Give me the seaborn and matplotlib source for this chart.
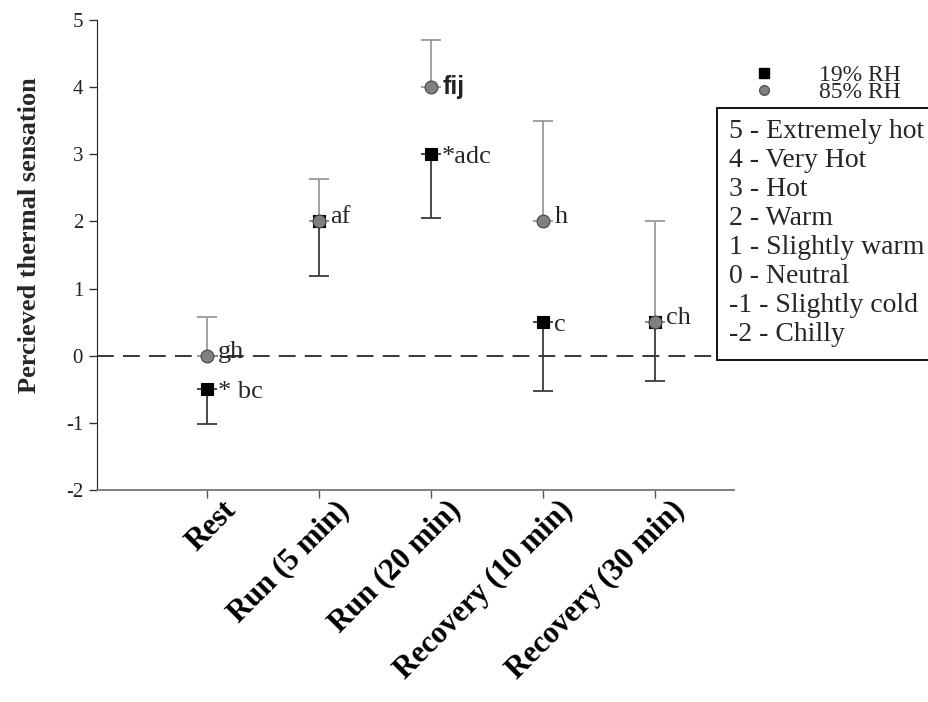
import matplotlib
matplotlib.use("Agg")
import matplotlib.pyplot as plt
import matplotlib.transforms as mtransforms
from matplotlib.lines import Line2D
from matplotlib.patches import Rectangle
import seaborn as sns
import pandas as pd

# data
stages = ["Rest", "Run (5 min)", "Run (20 min)", "Recovery (10 min)", "Recovery (30 min)"]
rh19_mean = [-0.5, 2.0, 3.0, 0.5, 0.5]
rh19_err = [0.52, 0.82, 0.95, 1.03, 0.88]      # drawn downward only
rh85_mean = [0.0, 2.0, 4.0, 2.0, 0.5]
rh85_err = [0.57, 0.63, 0.70, 1.50, 1.50]      # drawn upward only
rh19_labels = ["* bc", "", "*adc", "c", ""]
rh85_labels = ["gh", "af", "fij", "h", "ch"]
scale_text = ["5 - Extremely hot", "4 - Very Hot", "3 - Hot", "2 - Warm",
              "1 - Slightly warm", "0 - Neutral", "-1 - Slightly cold", "-2 - Chilly"]

sns.set_style("ticks")
plt.rcParams['font.family'] = ['Liberation Serif', 'DejaVu Serif']
plt.rcParams['axes.unicode_minus'] = False

df19 = pd.DataFrame({"stage": stages, "val": rh19_mean})
df85 = pd.DataFrame({"stage": stages, "val": rh85_mean})
pos = list(range(len(stages)))

fig = plt.figure(figsize=(9.29, 7.02), dpi=100)
ax = fig.add_axes([97/929, 1-490/702, (734-97)/929, (490-20)/702])

ax.axhline(0, color='black', lw=1.1, dashes=(11, 6), zorder=1)

# one-sided error bars
ax.errorbar(pos, rh19_mean, yerr=[rh19_err, [0]*5], fmt='none', ecolor='#3a3a3a',
            elinewidth=1.3, capsize=7, capthick=1.3, zorder=2)
ax.errorbar(pos, rh85_mean, yerr=[[0]*5, rh85_err], fmt='none', ecolor='#9a9a9a',
            elinewidth=1.3, capsize=7, capthick=1.3, zorder=2)

sns.scatterplot(data=df19, x="stage", y="val", marker='s', s=85, color='black',
                edgecolor='black', linewidth=0.8, ax=ax, zorder=3)
sns.scatterplot(data=df85, x="stage", y="val", marker='o', s=85, color='#808080',
                edgecolor='#444444', linewidth=0.8, ax=ax, zorder=4)

for i, lab in enumerate(rh19_labels):
    if lab:
        ax.annotate(lab, (i, rh19_mean[i]), xytext=(11, -3), textcoords='offset pixels',
                    va='center', ha='left', fontsize=19)
for i, lab in enumerate(rh85_labels):
    if lab == "fij":
        ax.annotate(lab, (i, rh85_mean[i]), xytext=(11, 0), textcoords='offset pixels',
                    va='center', ha='left', fontsize=18, fontweight='bold',
                    family=['Liberation Sans'], color='#222222')
    else:
        ax.annotate(lab, (i, rh85_mean[i]), xytext=(11, 4), textcoords='offset pixels',
                    va='center', ha='left', fontsize=19)

ax.set_xlim(-0.98, 4.7)
ax.set_ylim(-2, 5)
ax.set_yticks(range(-2, 6))
ax.set_xticks(pos)
ax.tick_params(axis='y', labelsize=15, length=6, width=1, colors='#333333', labelcolor='#222222', pad=4)
ax.tick_params(axis='x', length=6, width=1, colors='#555555', labelcolor='black', pad=8)
ax.set_xticklabels(stages, rotation=45, ha='right', va='top', rotation_mode='anchor',
                   fontsize=22, fontweight='bold')
# nudge the rotated labels up/right (after tick_params, which would reset it)
shift = mtransforms.ScaledTranslation(15/100, 14/100, fig.dpi_scale_trans)
for t in ax.get_xticklabels():
    t.set_transform(t.get_transform() + shift)
ax.set_xlabel("")
ax.set_ylabel("Percieved thermal sensation", fontsize=19, fontweight='bold')
ax.yaxis.set_label_coords(-0.088, 0.543)
sns.despine(ax=ax)
ax.spines['left'].set_color('#222222')
ax.spines['bottom'].set_color('#777777')
ax.spines['bottom'].set_linewidth(1.3)

handles = [Line2D([], [], marker='s', ls='none', color='black', markersize=7),
           Line2D([], [], marker='o', ls='none', color='#808080', markeredgecolor='#555555', markersize=7)]
fig.legend(handles, ["19% RH", "85% RH"], loc='upper left',
           bbox_to_anchor=(729/929, 1-53/702), frameon=False, fontsize=17,
           handletextpad=1.3, labelspacing=-0.2, borderpad=0)

# rating scale box
fig.patches.append(Rectangle((717/929, 1-360/702), 240/929, 252/702, transform=fig.transFigure,
                             facecolor='white', edgecolor='black', lw=1.3, zorder=9))
fig.text(729/929, 1-119/702, "\n".join(scale_text), fontsize=20, va='top', ha='left',
         linespacing=1.21, zorder=10)

fig.savefig("out.png", dpi=100)
